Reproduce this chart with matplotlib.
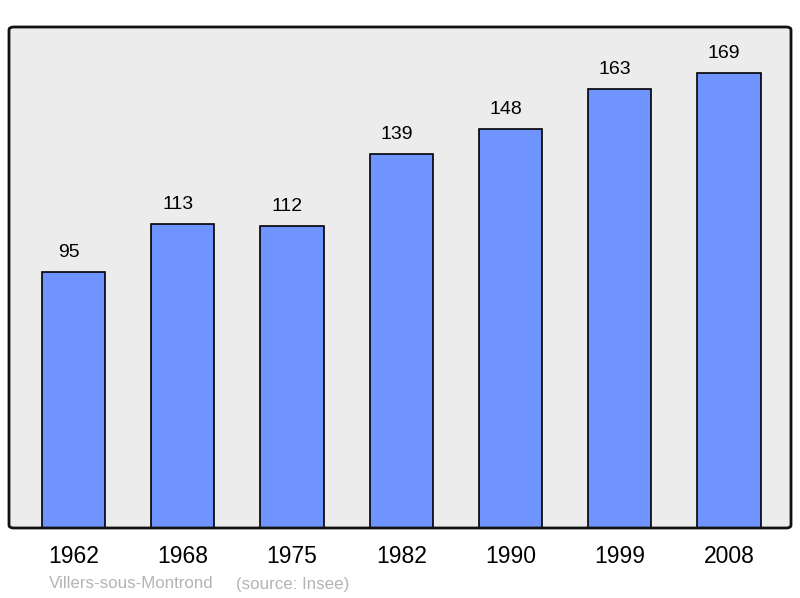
import matplotlib
matplotlib.use("Agg")
import matplotlib.pyplot as plt
from matplotlib.patches import FancyBboxPatch

years = ["1962", "1968", "1975", "1982", "1990", "1999", "2008"]
population = [95, 113, 112, 139, 148, 163, 169]
commune = "Villers-sous-Montrond"
source = "(source: Insee)"

plt.rcParams['font.family'] = ['Liberation Sans', 'DejaVu Sans']

W, H = 800, 598
fig = plt.figure(figsize=(W / 100, H / 100), dpi=100)
ax = fig.add_axes([9 / W, (H - 528) / H, (791 - 9) / W, (528 - 27) / H])

x = list(range(len(years)))
ax.bar(x, population, width=0.58, color="#7094ff", edgecolor="black",
       linewidth=1.2, zorder=2)
for xi, v in zip(x, population):
    ax.annotate(str(v), (xi, v), xytext=(-3.6, 10.8), textcoords="offset points",
                ha="center", va="baseline", fontsize=14, color="black")

ax.set_xlim(-0.59, 6.567)
ax.set_ylim(0, 186)
ax.set_xticks(x)
ax.set_xticklabels(years, fontsize=16.5)
ax.tick_params(axis="x", length=0, pad=12)
ax.set_yticks([])
for s in ax.spines.values():
    s.set_visible(False)
ax.patch.set_visible(False)

bg = FancyBboxPatch((0, 0), 1, 1, boxstyle="round,pad=0,rounding_size=0.006",
                    transform=ax.transAxes, facecolor="#ececec",
                    edgecolor="none", zorder=0, clip_on=False)
ax.add_patch(bg)
frame = FancyBboxPatch((0, 0), 1, 1, boxstyle="round,pad=0,rounding_size=0.006",
                       transform=ax.transAxes, facecolor="none",
                       edgecolor="#111111", linewidth=2.0, zorder=3, clip_on=False)
ax.add_patch(frame)

fig.text(49 / W, 1 - 584 / H, commune, fontsize=12.2, color="#b4b4b4",
         ha="left", va="center")
fig.text(236 / W, 1 - 584 / H, source, fontsize=12.2, color="#b4b4b4",
         ha="left", va="center")

fig.savefig("out.png", dpi=100)
